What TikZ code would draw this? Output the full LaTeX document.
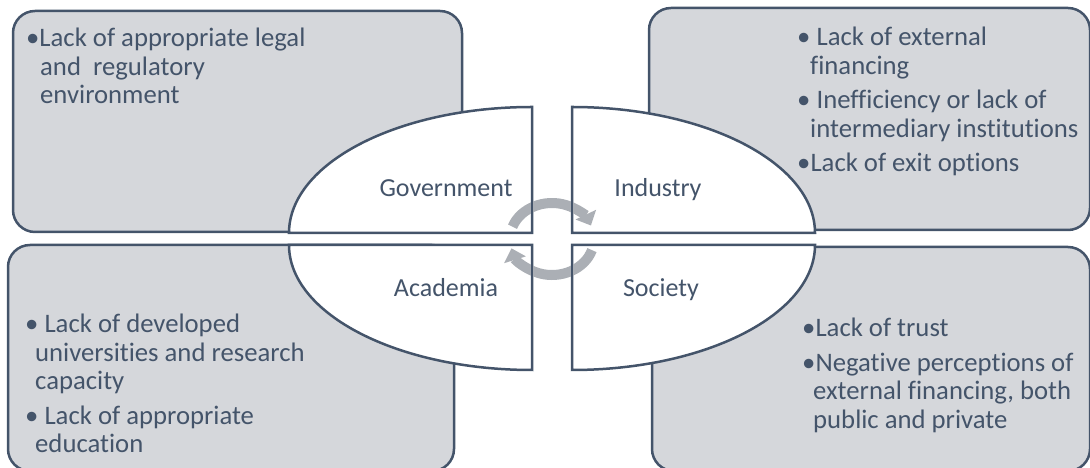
\documentclass[tikz,border=0pt]{standalone}
\usepackage{fontspec}
\setmainfont{Carlito}[Ligatures=NoCommon]
\usetikzlibrary{positioning, arrows.meta}

\definecolor{slate}{HTML}{44546A}
\definecolor{panelgray}{HTML}{D5D7DB}
\definecolor{arrowgray}{HTML}{ABAFB5}

\begin{document}
\begin{tikzpicture}[
    x=1pt, y=1pt,
    % Styles
    panel/.style={ % Gray corner panels
        rectangle,
        rounded corners=22pt,
        draw=slate,
        fill=panelgray,
        line width=2.5pt,
        inner sep=0pt
    },
    quarter/.style={ % Quadrants of the central ellipse
        draw=slate,
        fill=white,
        line width=2.5pt
    },
    edge/.style={ % Inner edges of the quadrants
        draw=slate,
        line width=2.5pt
    },
    sector/.style={ % Sector names
        text=slate,
        anchor=base,
        inner sep=0pt,
        font=\fontsize{26}{30}\selectfont
    },
    issues/.style={ % Bullet lists in the panels
        text=slate,
        align=left,
        anchor=north west,
        inner sep=0pt,
        font=\fontsize{26.7}{28.5}\selectfont
    },
    turn/.style={ % Circular arrows
        arrowgray,
        line width=10pt,
        -{Triangle[length=12pt, width=22pt]}
    }
]

    \useasboundingbox (0,0) rectangle (1090,468);
    \clip (0,0) rectangle (1090,468);

    % Corner panels
    \node [panel, minimum width=449pt, minimum height=221pt] (govbox) at (237.5,346.5) {};
    \node [panel, minimum width=441pt, minimum height=222pt] (indbox) at (869.5,349) {};
    \node [panel, minimum width=446pt, minimum height=226pt] (acabox) at (231,110) {};
    \node [panel, minimum width=438pt, minimum height=224pt] (socbox) at (871,109) {};

    % Central ellipse, split in four
    \coordinate (gc) at (532,235);
    \coordinate (ic) at (572,235);
    \coordinate (ac) at (532,223);
    \coordinate (sc) at (572,223);
    \draw [quarter] (gc) -- ++(-243,0) arc[start angle=180, end angle=90, x radius=243, y radius=126] -- cycle;
    \draw [quarter] (ic) -- ++(243,0) arc[start angle=0, end angle=90, x radius=243, y radius=126] -- cycle;
    \draw [quarter] (ac) -- ++(-243,0) arc[start angle=180, end angle=270, x radius=243, y radius=125] -- cycle;
    \draw [quarter] (sc) -- ++(243,0) arc[start angle=0, end angle=-90, x radius=243, y radius=125] -- cycle;

    % Circular arrows
    \coordinate (hub) at (552,229);
    \draw [turn] (hub) ++(160:42 and 36) arc[start angle=160, end angle=22, x radius=42, y radius=36];
    \draw [turn] (hub) ++(-18:42 and 36) arc[start angle=-18, end angle=-165, x radius=42, y radius=36];

    % Inner edges over the arrows
    \draw [edge] (gc) -- ++(0,126);
    \draw [edge] (ic) -- ++(0,126);
    \draw [edge] (ac) -- ++(0,-125);
    \draw [edge] (sc) -- ++(0,-125);

    % Sector names
    \node [sector] (gov) at (446,271) {Government};
    \node [sector] (ind) at (658,271) {Industry};
    \node [sector] (aca) at (446,171) {Academia};
    \node [sector] (soc) at (661,171) {Society};

    % Bullet lists
    \node [issues] (govtext) at (26,440) {\textbullet Lack of appropriate legal\\
        \hspace*{14pt}and~~regulatory\\
        \hspace*{14pt}environment};
    \node [issues] (indtext) at (797,441) {\textbullet\ Lack of external\\
        \hspace*{13pt}financing\\[6pt]
        \textbullet\ Inefficiency or lack of\\
        \hspace*{13pt}intermediary institutions\\[6pt]
        \textbullet Lack of exit options};
    \node [issues] (acatext) at (25,154) {\textbullet\ Lack of developed\\
        \hspace*{10pt}universities and research\\
        \hspace*{10pt}capacity\\[6pt]
        \textbullet\ Lack of appropriate\\
        \hspace*{10pt}education};
    \node [issues] (soctext) at (802,150) {\textbullet Lack of trust\\[6pt]
        \textbullet Negative perceptions of\\
        \hspace*{11pt}external financing, both\\
        \hspace*{11pt}public and private};

\end{tikzpicture}
\end{document}
